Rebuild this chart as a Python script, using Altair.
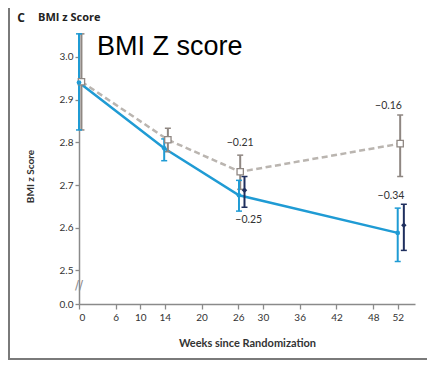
import altair as alt
import pandas as pd

# ---- data ----
blue_weeks = [0.0, 13.9, 26.1, 52.0]
blue_vals = [2.940, 2.786, 2.676, 2.588]
blue_lo = [2.829, 2.757, 2.639, 2.521]
blue_hi = [3.054, 2.808, 2.711, 2.646]

gray_weeks = [0.4, 14.5, 26.3, 52.4]
gray_vals = [2.942, 2.806, 2.731, 2.797]
gray_lo = [2.829, 2.778, 2.690, 2.720]
gray_hi = [3.054, 2.833, 2.770, 2.864]

navy_weeks = [27.0, 53.0]
navy_vals = [2.688, 2.606]
navy_lo = [2.648, 2.547]
navy_hi = [2.720, 2.655]

label_text = ["\u22120.21", "\u22120.25", "\u22120.16", "\u22120.34"]
label_weeks = [26.3, 27.7, 50.5, 50.9]
label_vals = [2.798, 2.618, 2.885, 2.674]

x_ticks = [0, 6, 10, 14, 20, 26, 30, 36, 42, 48, 52]
y_ticks = [0.0, 2.5, 2.6, 2.7, 2.8, 2.9, 3.0]

# ---- tables ----
blue = pd.DataFrame({"w": blue_weeks, "v": blue_vals, "lo": blue_lo, "hi": blue_hi})
gray = pd.DataFrame({"w": gray_weeks, "v": gray_vals, "lo": gray_lo, "hi": gray_hi})
navy = pd.DataFrame({"w": navy_weeks, "v": navy_vals, "lo": navy_lo, "hi": navy_hi})
labels = pd.DataFrame({"w": label_weeks, "v": label_vals, "t": label_text})
brk = pd.DataFrame({"w": [0.0], "v": [2.465], "t": ["//"]})
one = pd.DataFrame({"a": [1]})

BLUE = "#1f9bd4"
GRAY_LINE = "#bab5b0"
GRAY_BAR = "#8f8782"
NAVY = "#1f2f5e"
AXIS = "#8a8a8a"
FONT = "Lato"

xs = alt.Scale(domain=[0, 54.82], nice=False, zero=False)
ys = alt.Scale(domain=[0, 2.44, 3.056], range=[271, 263.1, 0], nice=False, zero=False)

x_axis = alt.Axis(values=x_ticks, title="Weeks since Randomization", grid=False,
                  titleFontWeight="bold", titleFontSize=11, titleFont=FONT,
                  titleColor="#333333", titleY=39, titleBaseline="middle",
                  tickSize=5, labelPadding=3)
y_axis = alt.Axis(values=y_ticks, format=".1f", title="BMI z Score", grid=False,
                  titleFontWeight="bold", titleFontSize=10, titleFont=FONT,
                  titleColor="#333333", titleX=-49, titleY=143, titleAngle=270,
                  titleAlign="center", titleBaseline="middle",
                  tickSize=4, labelPadding=2)


def X():
    return alt.X("w:Q", scale=xs, axis=x_axis)


def Y(field="v"):
    return alt.Y(field + ":Q", scale=ys, axis=y_axis)


def bars(df, color, width):
    rule = alt.Chart(df).mark_rule(color=color, strokeWidth=width).encode(
        x=X(), y=Y("lo"), y2="hi:Q")
    cap_lo = alt.Chart(df).mark_point(shape="M-1,0L1,0", size=36, filled=False,
                                      color=color, strokeWidth=1.5, opacity=1).encode(
        x=X(), y=Y("lo"))
    cap_hi = alt.Chart(df).mark_point(shape="M-1,0L1,0", size=36, filled=False,
                                      color=color, strokeWidth=1.5, opacity=1).encode(
        x=X(), y=Y("hi"))
    return [rule, cap_lo, cap_hi]


gray_line = alt.Chart(gray).mark_line(color=GRAY_LINE, strokeWidth=2.5,
                                      strokeDash=[6, 3.5]).encode(x=X(), y=Y())
blue_line = alt.Chart(blue).mark_line(color=BLUE, strokeWidth=2.5).encode(x=X(), y=Y())

gray_pts = alt.Chart(gray).mark_point(shape="square", size=40, filled=True, fill="white",
                                      stroke=GRAY_BAR, strokeWidth=1.3, opacity=1).encode(x=X(), y=Y())
blue_pts = alt.Chart(blue).mark_point(shape="circle", size=22, filled=True,
                                      color=BLUE, opacity=1).encode(x=X(), y=Y())
navy_pts = alt.Chart(navy).mark_point(shape="diamond", size=30, filled=True,
                                      color=NAVY, opacity=1).encode(x=X(), y=Y())

label_layer = alt.Chart(labels).mark_text(font=FONT, fontSize=10.5, color="#333333",
                                          baseline="middle", align="center").encode(
    x=X(), y=Y(), text="t:N")
break_layer = alt.Chart(brk).mark_text(font="DejaVu Sans", fontSize=12, color=AXIS,
                                       baseline="middle", align="center").encode(
    x=X(), y=Y(), text="t:N")

frame = alt.Chart(one).mark_rect(fillOpacity=0, stroke="#7a7a7a", strokeWidth=2).encode(
    x=alt.value(-70), x2=alt.value(420), y=alt.value(-60), y2=alt.value(326))

head_c = alt.Chart(one).mark_text(text="C", font="Open Sans", fontWeight="bold", fontSize=12,
                                  color="#222222", align="center", baseline="middle").encode(
    x=alt.value(-58), y=alt.value(-15.5))
head_t = alt.Chart(one).mark_text(text="BMI z Score", font="Open Sans", fontWeight="bold",
                                  fontSize=11, color="#222222", align="left",
                                  baseline="middle").encode(
    x=alt.value(-41), y=alt.value(-15.5))
big = alt.Chart(one).mark_text(text="BMI Z score", font="Liberation Sans", fontSize=27,
                               color="#000000", align="left", baseline="alphabetic").encode(
    x=alt.value(18), y=alt.value(22))

layers = [gray_line, blue_line]
layers += bars(gray, GRAY_BAR, 2) + bars(blue, BLUE, 2) + bars(navy, NAVY, 2)
layers += [gray_pts, blue_pts, navy_pts, label_layer, break_layer, frame, head_c, head_t, big]

chart = alt.layer(*layers).properties(
    width=336, height=271,
    autosize=alt.AutoSizeParams(type="none"),
    padding={"left": 71, "top": 25, "right": 12, "bottom": 56},
).configure_view(stroke=None).configure_axis(
    domainColor=AXIS, domainWidth=1.5, tickColor=AXIS, tickWidth=1.3,
    labelFont=FONT, labelFontSize=10, labelColor="#333333",
)

chart.save("out.html", embed_options={"renderer": "svg", "actions": False})
